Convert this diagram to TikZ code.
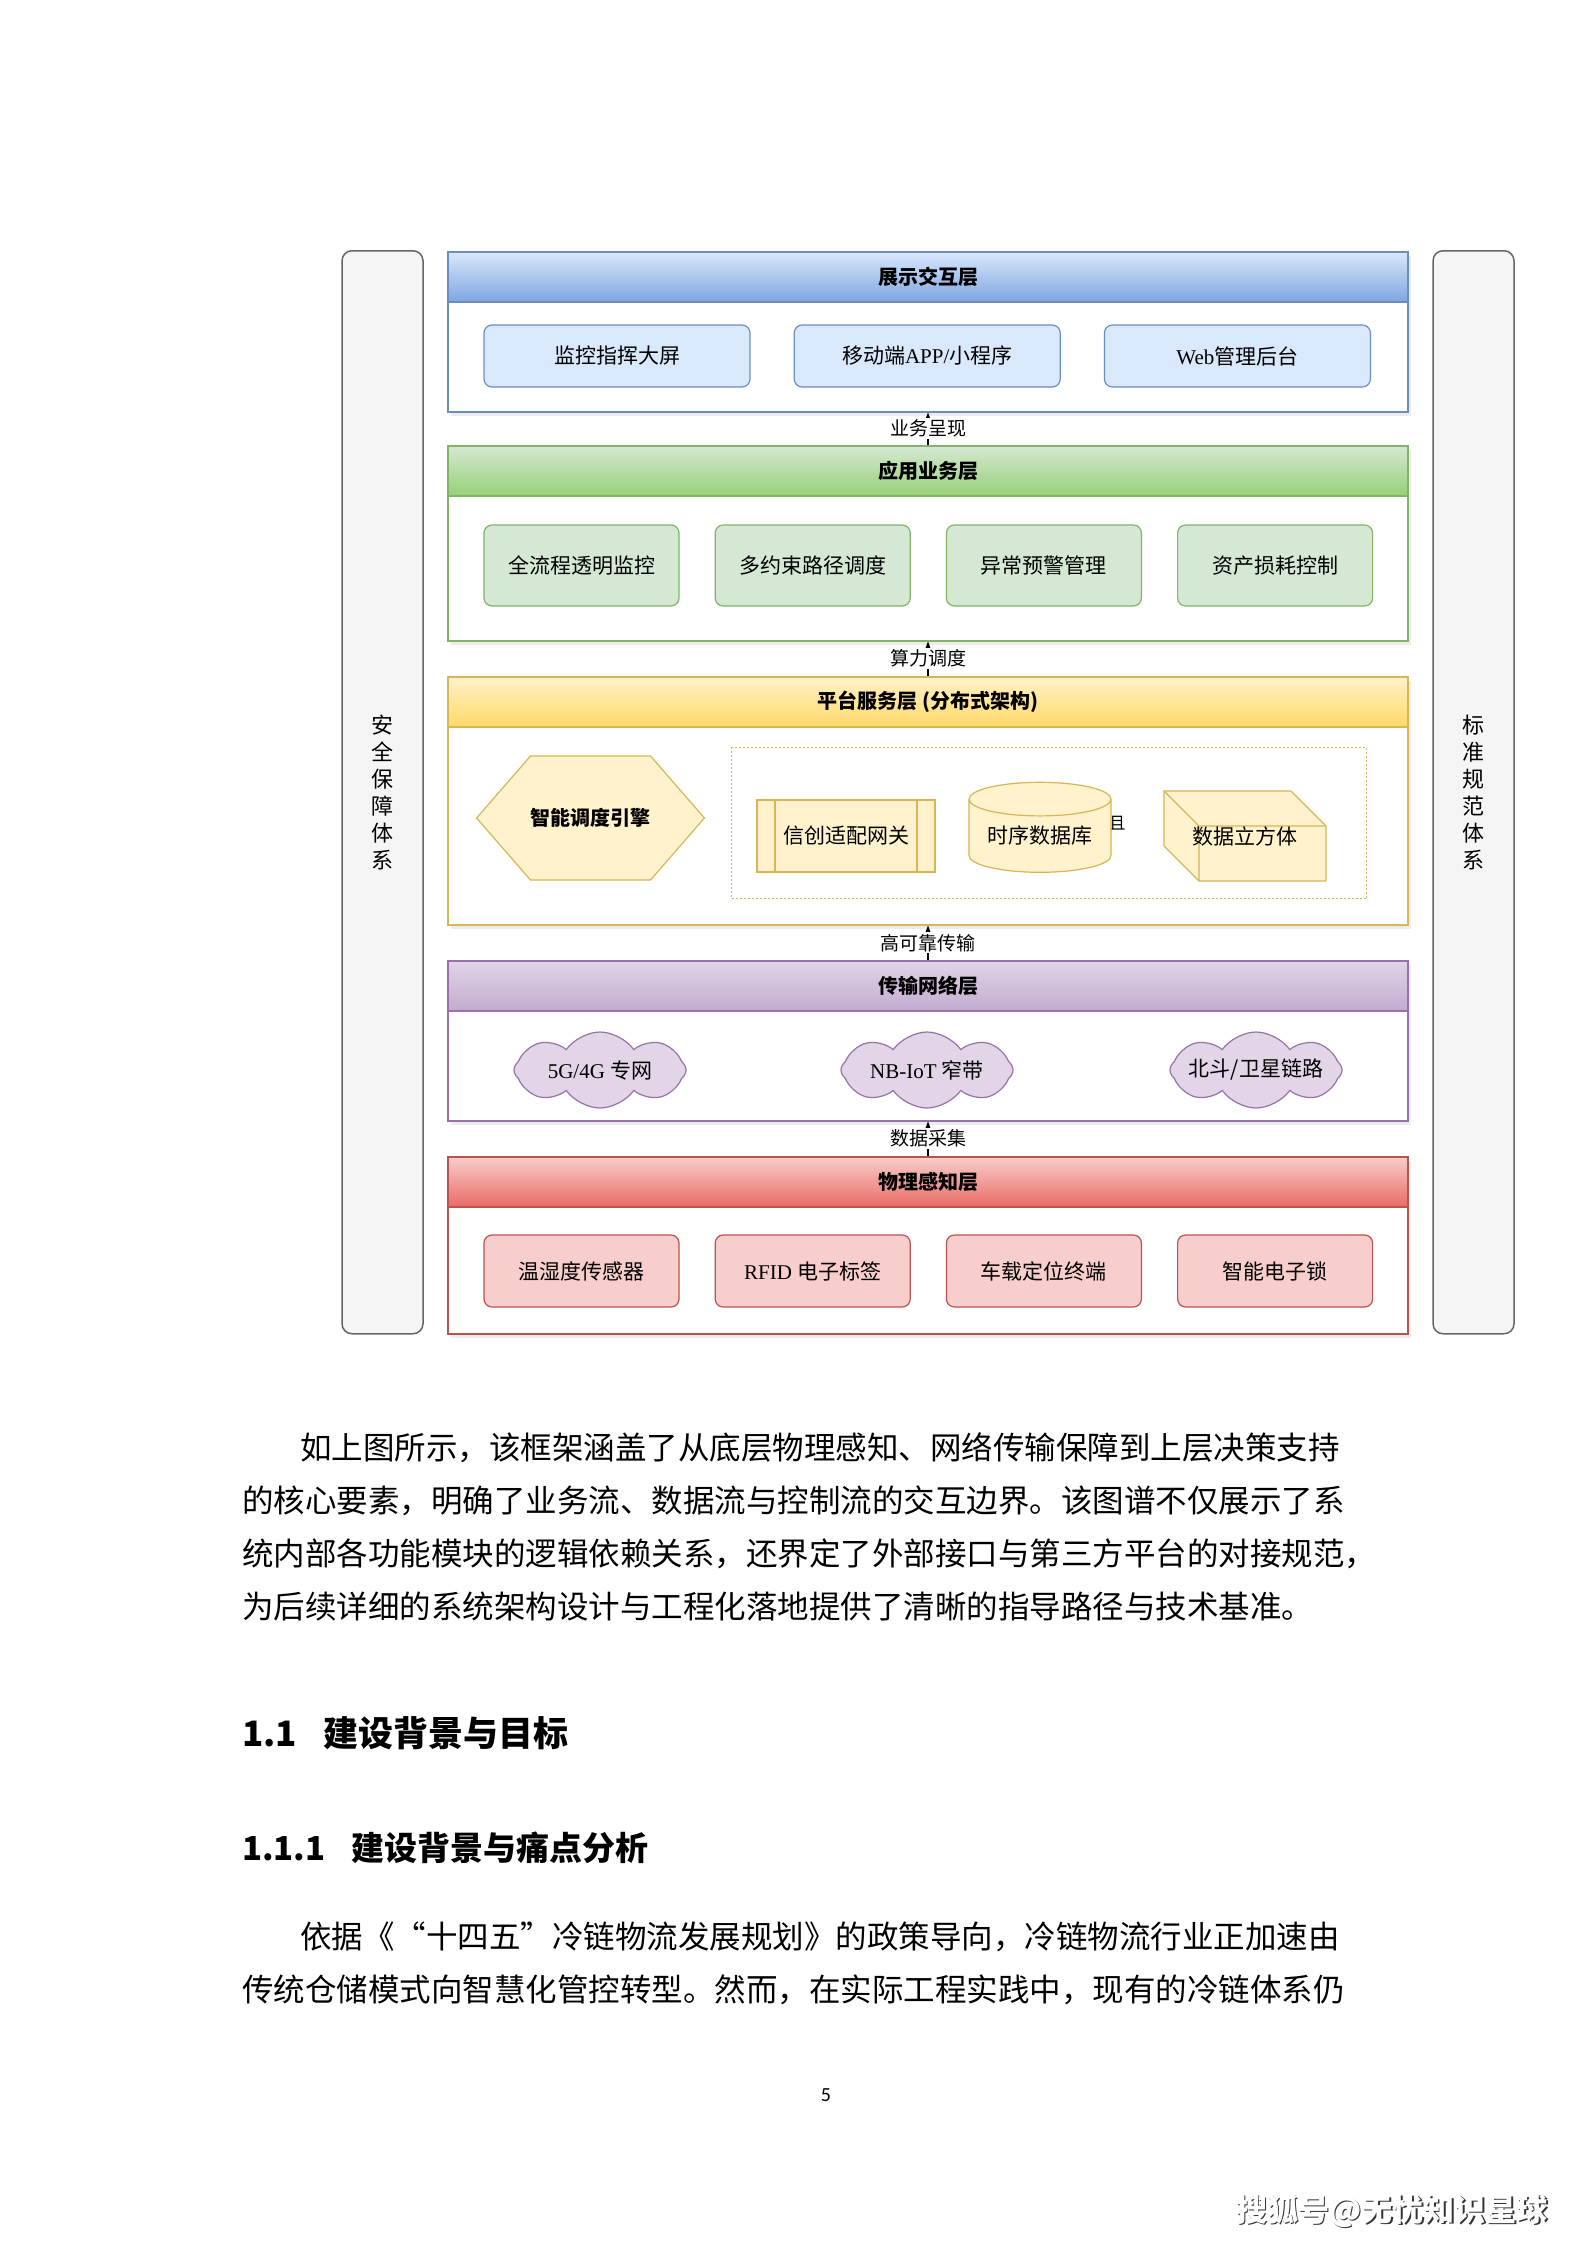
\documentclass[tikz,border=0pt]{standalone}
\usepackage{fontspec}
\setmainfont{Noto Sans CJK SC}
\newfontfamily\latinserif{Liberation Serif}
\newfontfamily\pagenumfont{Carlito}
\usetikzlibrary{arrows.meta,positioning,calc,shadows,shapes.geometric,shapes.symbols}
\definecolor{blueFill}{HTML}{DAE8FC}
\definecolor{blueLine}{HTML}{6C8EBF}
\definecolor{blueDeep}{HTML}{7EA6E0}
\definecolor{greenFill}{HTML}{D5E8D4}
\definecolor{greenLine}{HTML}{82B366}
\definecolor{greenDeep}{HTML}{97D077}
\definecolor{yellowFill}{HTML}{FFF2CC}
\definecolor{yellowLine}{HTML}{D6B656}
\definecolor{yellowDeep}{HTML}{FFD966}
\definecolor{purpleFill}{HTML}{E1D5E7}
\definecolor{purpleLine}{HTML}{9673A6}
\definecolor{purpleDeep}{HTML}{C3ABD0}
\definecolor{redFill}{HTML}{F8CECC}
\definecolor{redLine}{HTML}{B85450}
\definecolor{redDeep}{HTML}{EA6B66}
\definecolor{sideFill}{HTML}{F5F5F5}
\definecolor{sideLine}{HTML}{666666}
\tikzset{
  layerbody/.style={draw, line width=1.5pt, fill=white, minimum width=960pt, anchor=north,
    drop shadow={shadow xshift=3pt, shadow yshift=-4pt, opacity=0.15}},
  layerhead/.style={draw, line width=1.5pt, minimum width=960pt, minimum height=50pt, anchor=north,
    font=\fontsize{20}{24}\selectfont\bfseries},
  itembox/.style={draw, rounded corners=8pt, line width=1.2pt, inner sep=0pt},
  flowline/.style={line width=1.2pt, -{Stealth[length=8pt,width=6pt]}},
  flowlabel/.style={fill=white, inner sep=1.5pt, font=\fontsize{19}{22}\selectfont},
  sidebar/.style={draw=sideLine, fill=sideFill, line width=1.5pt, rounded corners=10pt,
    minimum width=81pt, minimum height=1083pt, anchor=north, align=center,
    font=\fontsize{22}{27}\selectfont},
  yellowshape/.style={draw=yellowLine, fill=yellowFill, line width=1.2pt, inner sep=0pt},
  netcloud/.style={cloud, cloud puffs=8, cloud puff arc=110, aspect=2, draw=purpleLine, fill=purpleFill, line width=1.2pt,
    minimum width=172pt, minimum height=76pt, inner sep=0pt},
  bodytext/.style={anchor=north west, inner sep=0pt, align=left, font=\fontsize{31.5}{53}\selectfont}
}

\begin{document}
\begin{tikzpicture}[x=1pt, y=-1pt, node distance=35pt, every node/.style={font=\fontsize{21}{25}\selectfont}]
  \path[use as bounding box, fill=white] (0,0) rectangle (1587,2245);

  \node[sidebar] (safety) at (382.5,250) {安\\全\\保\\障\\体\\系};
  \node[sidebar] (standard) at (1473.5,250) {标\\准\\规\\范\\体\\系};

  \node[layerbody, draw=blueLine, minimum height=160pt] (showL) at (928,251) {};
  \node[layerhead, draw=blueLine, top color=blueFill, bottom color=blueDeep] (showH) at (showL.north) {展示交互层};
  \node[itembox, fill=blueFill, draw=blueLine, minimum width=266pt, minimum height=62pt] (screen) at (617,356) {监控指挥大屏};
  \node[itembox, fill=blueFill, draw=blueLine, minimum width=266pt, minimum height=62pt, right=43pt of screen] (mobile) {移动端{\latinserif APP/}小程序};
  \node[itembox, fill=blueFill, draw=blueLine, minimum width=266pt, minimum height=62pt, right=43pt of mobile] (webadmin) {{\latinserif Web}管理后台};

  \node[layerbody, draw=greenLine, minimum height=195pt] (appL) at (928,445) {};
  \node[layerhead, draw=greenLine, top color=greenFill, bottom color=greenDeep] (appH) at (appL.north) {应用业务层};
  \node[itembox, fill=greenFill, draw=greenLine, minimum width=195pt, minimum height=81pt] (monitor) at (581.5,565.5) {全流程透明监控};
  \node[itembox, fill=greenFill, draw=greenLine, minimum width=195pt, minimum height=81pt, right=of monitor] (route) {多约束路径调度};
  \node[itembox, fill=greenFill, draw=greenLine, minimum width=195pt, minimum height=81pt, right=of route] (alarm) {异常预警管理};
  \node[itembox, fill=greenFill, draw=greenLine, minimum width=195pt, minimum height=81pt, right=of alarm] (asset) {资产损耗控制};

  \node[layerbody, draw=yellowLine, minimum height=248pt] (platL) at (928,676) {};
  \node[layerhead, draw=yellowLine, top color=yellowFill, bottom color=yellowDeep] (platH) at (platL.north) {平台服务层 (分布式架构)};
  \node[draw=yellowLine, line width=1pt, dash pattern=on 2pt off 2pt, minimum width=635pt, minimum height=151pt, anchor=north west] (dbgroup) at (731,747) {};
  \node[yellowshape, signal, signal to=east and west, signal pointer angle=98, minimum width=204pt, minimum height=124pt,
    font=\fontsize{20}{24}\selectfont\bfseries] (engine) at (590.5,818) {智能调度引擎};
  \node[yellowshape, minimum width=178pt, minimum height=72pt,
    path picture={\draw[yellowLine, line width=1.2pt]
      ($(path picture bounding box.north west)+(18,0)$) -- ($(path picture bounding box.south west)+(18,0)$)
      ($(path picture bounding box.north east)+(-18,0)$) -- ($(path picture bounding box.south east)+(-18,0)$);}] (gateway) at (846,836) {信创适配网关};
  \node[inner sep=0pt, font=\fontsize{17}{20}\selectfont] (dbcut) at (1117,823) {且};
  \node[yellowshape, cylinder, shape border rotate=90, aspect=0.32, minimum width=142pt, minimum height=90pt] (tsdb) at (1040,836) {时序数据库};
  \node[inner sep=0pt, minimum width=166pt, minimum height=94pt,
    path picture={
      \path (path picture bounding box.north west) ++(2,2) coordinate (cubeA)
            (path picture bounding box.south east) ++(-2,-2) coordinate (cubeB);
      \filldraw[fill=yellowFill, draw=yellowLine, line width=1.2pt, line join=round]
        (cubeA) -- ($(cubeA-|cubeB)+(-35,0)$) -- ($(cubeA-|cubeB)+(0,35)$) -- (cubeB)
        -- ($(cubeA|-cubeB)+(35,0)$) -- ($(cubeA|-cubeB)+(0,-35)$) -- cycle;
      \draw[yellowLine, line width=1.2pt, line join=round]
        (cubeA) -- ++(35,35) -- ($(cubeA-|cubeB)+(0,35)$)
        ($(cubeA)+(35,35)$) -- ($(cubeA|-cubeB)+(35,0)$);}] (cube) at (1245,836) {数据立方体};

  \node[layerbody, draw=purpleLine, minimum height=160pt] (netL) at (928,960) {};
  \node[layerhead, draw=purpleLine, top color=purpleFill, bottom color=purpleDeep] (netH) at (netL.north) {传输网络层};
  \node[netcloud] (lte) at (600,1070) {\makebox[40pt]{{\latinserif 5G/4G }专网}};
  \node[netcloud] (nbiot) at (927,1070) {\makebox[40pt]{{\latinserif NB-IoT }窄带}};
  \node[netcloud] (beidou) at (1256,1070) {\makebox[40pt]{北斗/卫星链路}};

  \node[layerbody, draw=redLine, minimum height=177pt] (senseL) at (928,1156) {};
  \node[layerhead, draw=redLine, top color=redFill, bottom color=redDeep] (senseH) at (senseL.north) {物理感知层};
  \node[itembox, fill=redFill, draw=redLine, minimum width=195pt, minimum height=72pt] (sensor) at (581.5,1271) {温湿度传感器};
  \node[itembox, fill=redFill, draw=redLine, minimum width=195pt, minimum height=72pt, right=of sensor] (rfid) {{\latinserif RFID }电子标签};
  \node[itembox, fill=redFill, draw=redLine, minimum width=195pt, minimum height=72pt, right=of rfid] (vehicle) {车载定位终端};
  \node[itembox, fill=redFill, draw=redLine, minimum width=195pt, minimum height=72pt, right=of vehicle] (lock) {智能电子锁};

  \draw[flowline] (appL.north) -- node[flowlabel] {业务呈现} (showL.south);
  \draw[flowline] (platL.north) -- node[flowlabel] {算力调度} (appL.south);
  \draw[flowline] (netL.north) -- node[flowlabel] {高可靠传输} (platL.south);
  \draw[flowline] (senseL.north) -- node[flowlabel] {数据采集} (netL.south);

  \node[bodytext] (para1) at (242,1432.5) {\hspace*{58pt}如上图所示，该框架涵盖了从底层物理感知、网络传输保障到上层决策支持\\的核心要素，明确了业务流、数据流与控制流的交互边界。该图谱不仅展示了系\\统内部各功能模块的逻辑依赖关系，还界定了外部接口与第三方平台的对接规范，\\为后续详细的系统架构设计与工程化落地提供了清晰的指导路径与技术基准。};
  \node[anchor=west, inner sep=0pt, font=\fontsize{35}{40}\selectfont\bfseries] (sec) at (242,1733) {1.1\hspace{26pt}建设背景与目标};
  \node[anchor=west, inner sep=0pt, font=\fontsize{33}{38}\selectfont\bfseries] (subsec) at (242,1848) {1.1.1\hspace{26pt}建设背景与痛点分析};
  \node[bodytext] (para2) at (242,1921.5) {\hspace*{58pt}依据《“十四五”冷链物流发展规划》的政策导向，冷链物流行业正加速由\\传统仓储模式向智慧化管控转型。然而，在实际工程实践中，现有的冷链体系仍};

  \node[font=\pagenumfont\fontsize{20}{24}\selectfont] (pagenum) at (826,2095) {5};
  \node[font=\fontsize{31}{36}\selectfont\bfseries, text=black!80] (markshadow) at (1393.5,2212.5) {搜狐号@无忧知识星球};
  \node[font=\fontsize{31}{36}\selectfont\bfseries, text=white] (mark) at (1392,2211) {搜狐号@无忧知识星球};
\end{tikzpicture}
\end{document}
